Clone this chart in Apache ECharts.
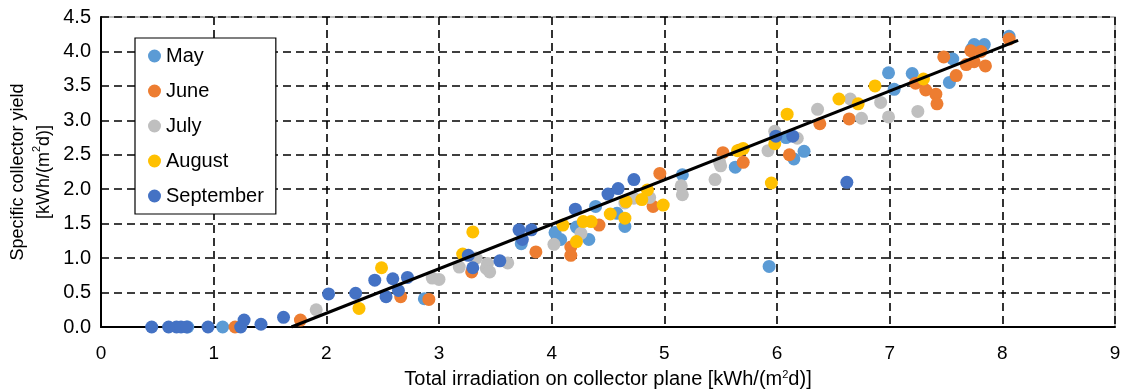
<!DOCTYPE html>
<html>
<head>
<meta charset="utf-8">
<script src="https://cdn.jsdelivr.net/npm/echarts@6/dist/echarts.min.js"></script>
<style>
  html, body { margin: 0; padding: 0; background: #fff; }
  #chart { width: 1130px; height: 392px; }
</style>
</head>
<body>
<div id="chart"></div>
<script>
// [irradiation, yield] per month
const may = [
  [0.77, 0], [1.08, 0], [2.87, 0.41], [3.73, 1.21], [4.03, 1.37], [4.08, 1.27],
  [4.22, 1.45], [4.33, 1.27], [4.39, 1.75], [4.58, 1.65], [4.65, 1.46], [5.16, 2.21],
  [5.63, 2.32], [5.93, 0.88], [6.08, 2.75], [6.15, 2.44], [6.24, 2.55], [6.99, 3.69],
  [7.04, 3.45], [7.2, 3.68], [7.53, 3.55], [7.56, 3.89], [7.73, 4.04], [7.75, 4.1],
  [7.84, 4.1], [8.06, 4.22]
]
const june = [
  [1.19, 0], [1.77, 0.1], [2.66, 0.44], [2.91, 0.4], [3.29, 0.8], [3.86, 1.09],
  [4.17, 1.16], [4.17, 1.04], [4.42, 1.48], [4.9, 1.75], [4.96, 2.23], [5.52, 2.53],
  [5.67, 2.57], [5.7, 2.39], [6.11, 2.5], [6.38, 2.95], [6.64, 3.02], [7.23, 3.54],
  [7.32, 3.44], [7.41, 3.38], [7.42, 3.24], [7.48, 3.92], [7.59, 3.65], [7.68, 3.81],
  [7.72, 4.01], [7.75, 3.85], [7.81, 4.0], [7.85, 3.79], [8.06, 4.18]
]
const july = [
  [1.91, 0.25], [2.94, 0.71], [3.0, 0.69], [3.18, 0.87], [3.33, 1.0], [3.42, 0.85],
  [3.43, 0.92], [3.45, 0.8], [3.61, 0.93], [4.02, 1.2], [4.26, 1.36], [4.65, 1.8],
  [4.73, 1.87], [4.87, 1.88], [5.15, 2.05], [5.16, 1.92], [5.45, 2.14], [5.49, 2.39],
  [5.5, 2.34], [5.92, 2.56], [5.98, 2.84], [6.18, 2.74], [6.36, 3.16], [6.65, 3.31],
  [6.75, 3.03], [6.92, 3.26], [6.99, 3.05], [7.25, 3.13]
]
const august = [
  [2.29, 0.27], [2.49, 0.86], [3.21, 1.06], [3.3, 1.38], [4.1, 1.48], [4.22, 1.24],
  [4.28, 1.53], [4.35, 1.53], [4.52, 1.64], [4.65, 1.58], [4.66, 1.82], [4.8, 1.85],
  [4.85, 1.99], [4.99, 1.77], [5.65, 2.56], [5.7, 2.59], [5.95, 2.09], [5.98, 2.66],
  [6.09, 3.09], [6.55, 3.31], [6.72, 3.24], [6.87, 3.5], [7.3, 3.6]
]
const september = [
  [0.45, 0], [0.6, 0], [0.67, 0], [0.71, 0], [0.76, 0], [0.95, 0], [1.24, 0],
  [1.27, 0.1], [1.42, 0.04], [1.62, 0.14], [2.02, 0.48], [2.26, 0.49], [2.43, 0.68],
  [2.53, 0.44], [2.59, 0.7], [2.64, 0.53], [2.72, 0.72], [3.26, 1.04], [3.3, 0.86],
  [3.54, 0.96], [3.71, 1.41], [3.74, 1.27], [3.82, 1.41], [4.21, 1.71], [4.5, 1.93],
  [4.59, 2.01], [4.73, 2.14], [5.99, 2.77], [6.14, 2.77], [6.62, 2.1]
]
const trend = [[1.69, 0], [8.14, 4.16]]

const months = ['May', 'June', 'July', 'August', 'September']
const monthData = [may, june, july, august, september]
const colors = ['#5B9BD5', '#ED7D31', '#BFBFBF', '#FFC000', '#4472C4']

const fontFamily = 'Liberation Sans, Arial, sans-serif'
const supStyle = { fontSize: 11, lineHeight: 11, verticalAlign: 'top', fontFamily: fontFamily, color: '#000' }

const chart = echarts.init(document.getElementById('chart'))

const series = months.map((name, i) => ({
  name: name,
  type: 'scatter',
  data: monthData[i],
  symbol: 'circle',
  symbolSize: 13,
  itemStyle: { color: colors[i], opacity: 1 },
  z: 2 + i
}))
series.push({
  name: 'trend',
  type: 'line',
  data: trend,
  symbol: 'none',
  lineStyle: { color: '#000', width: 3 },
  z: 10
})

chart.setOption({
  animation: false,
  textStyle: { fontFamily: fontFamily },
  grid: {
    left: 101, right: 15, top: 17, bottom: 65,
    containLabel: false, outerBoundsMode: 'none',
    show: true, borderColor: '#A6A6A6', borderWidth: 1.5
  },
  legend: {
    data: months,
    orient: 'vertical',
    left: 135, top: 38,
    padding: [8, 12, 8, 13],
    itemWidth: 13, itemHeight: 13, itemGap: 15,
    icon: 'circle',
    borderColor: '#000', borderWidth: 1.2,
    backgroundColor: '#fff',
    textStyle: { fontSize: 20, lineHeight: 20, color: '#000', fontFamily: fontFamily }
  },
  xAxis: {
    type: 'value', min: 0, max: 9, interval: 1,
    name: 'Total irradiation on collector plane [kWh/(m{sup|2}d)]',
    nameLocation: 'middle', nameGap: 42, nameMoveOverlap: false,
    nameTextStyle: { fontSize: 20, color: '#000', fontFamily: fontFamily, rich: { sup: supStyle } },
    axisLine: { lineStyle: { color: '#000', width: 2 } },
    axisTick: { show: false },
    axisLabel: { fontSize: 19, color: '#000', margin: 17 },
    splitLine: { lineStyle: { color: '#000', width: 1.6, type: [8, 5] } }
  },
  yAxis: {
    type: 'value', min: 0, max: 4.5, interval: 0.5,
    name: 'Specific collector yield\n[kWh/(m{sup|2}d)]',
    nameLocation: 'middle', nameGap: 44, nameRotate: 90, nameMoveOverlap: false,
    nameTextStyle: { fontSize: 18, lineHeight: 26, color: '#000', fontFamily: fontFamily, rich: { sup: supStyle } },
    axisLine: { show: true, lineStyle: { color: '#000', width: 2 } },
    axisTick: { show: false },
    axisLabel: { fontSize: 20, color: '#000', margin: 10, formatter: v => v.toFixed(1) },
    splitLine: { lineStyle: { color: '#000', width: 1.6, type: [8, 5] } }
  },
  series: series
})

window.addEventListener('resize', () => chart.resize())
</script>
</body>
</html>
